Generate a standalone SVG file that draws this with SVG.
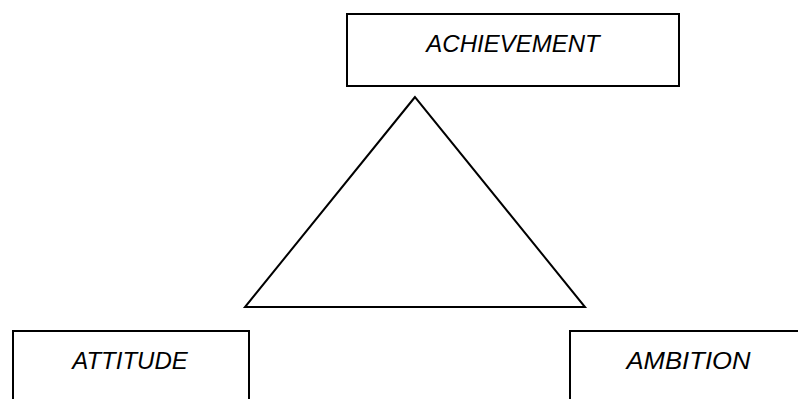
<svg xmlns="http://www.w3.org/2000/svg" width="798" height="399" viewBox="0 0 798 399">
<style>
.box{fill:#fff;stroke:#000;stroke-width:2}
.lbl{font-family:"Liberation Sans",Arial,sans-serif;font-style:italic;font-size:24px;fill:#000;text-anchor:middle}
.edge{fill:none;stroke:#000;stroke-width:2;stroke-linejoin:miter}
</style>
<rect width="798" height="399" fill="#fff"/>
<g id="connectors">
<polygon class="edge" points="415,97 245,307 585,307"/>
</g>
<g id="achievement">
<rect class="box" x="347" y="14" width="332" height="72"/>
<text class="lbl" x="513" y="52">ACHIEVEMENT</text>
</g>
<g id="attitude">
<rect class="box" x="13" y="331" width="236" height="80"/>
<text class="lbl" x="130" y="369">ATTITUDE</text>
</g>
<g id="ambition">
<rect class="box" x="570" y="331" width="240" height="80"/>
<text class="lbl" x="688.5" y="369" textLength="124" lengthAdjust="spacingAndGlyphs">AMBITION</text>
</g>
</svg>
